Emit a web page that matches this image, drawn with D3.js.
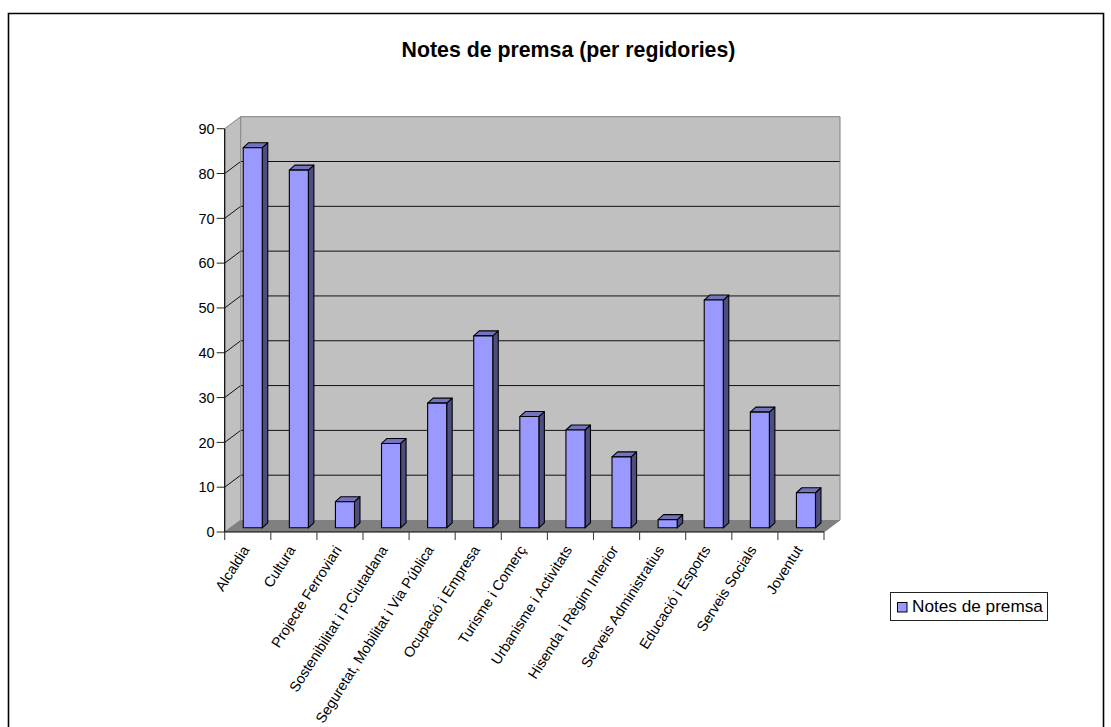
<!DOCTYPE html>
<html><head><meta charset="utf-8">
<script src="https://cdn.jsdelivr.net/npm/d3@7/dist/d3.min.js"></script>
<style>html,body{margin:0;padding:0;background:#fff;overflow:hidden}svg{display:block}text{font-family:"Liberation Sans",Arial,sans-serif;fill:#000}</style>
</head><body><svg id="c" width="1111" height="727"></svg>
<script>
const categories=["Alcaldia","Cultura","Projecte Ferroviari","Sostenibilitat i P.Ciutadana","Seguretat, Mobilitat i Via Pública","Ocupació i Empresa","Turisme i Comerç","Urbanisme i Activitats","Hisenda i Règim Interior","Serveis Administratius","Educació i Esports","Serveis Socials","Joventut"];
const values=[85,80,6,19,28,43,25,22,16,2,51,26,8];
const yTicks=[0,10,20,30,40,50,60,70,80,90];
const seriesName="Notes de premsa";
const titleText="Notes de premsa (per regidories)";

const svg=d3.select("#c");
const L=224.7,R=824,Y0=532,Y90=128.7,DX=16,DY=12;
const x=d3.scaleBand().domain(categories).range([L,R]).paddingInner(0.587).paddingOuter(0.2935);
const y=d3.scaleLinear().domain([0,90]).range([Y0,Y90]);

// frame
svg.append("path").attr("d","M8.5,727V13.5H1103.5V727").attr("fill","none").attr("stroke","#000").attr("stroke-width",1.6);

// title
svg.append("text").attr("x",568.5).attr("y",57).attr("text-anchor","middle").attr("font-weight","bold").attr("font-size",21.3).text(titleText);

// walls
const poly=(p,f)=>svg.append("polygon").attr("points",p.map(d=>d.join(",")).join(" ")).attr("fill",f).attr("stroke","none");
poly([[R+DX,y(90)-DY],[L+DX,y(90)-DY],[L+DX,y(0)-DY],[R+DX,y(0)-DY]],"#c0c0c0");
poly([[L,y(90)],[L+DX,y(90)-DY],[L+DX,y(0)-DY],[L,y(0)]],"#c0c0c0");
poly([[L,y(0)],[L+DX,y(0)-DY],[R+DX,y(0)-DY],[R,y(0)]],"#808080");

// gridlines
yTicks.forEach(t=>{
  if(t===90) return;
  svg.append("path").attr("d",`M${L},${y(t)}L${L+DX},${y(t)-DY}`+(t>0?`H${R+DX}`:"")).attr("fill","none").attr("stroke",t===0?"#808080":"#111").attr("stroke-width",1);
});
// wall edges
svg.append("path").attr("d",`M${L},${y(90)}L${L+DX},${y(90)-DY}H${R+DX}V${y(0)-DY}L${R},${y(0)}M${L+DX},${y(90)-DY}V${y(0)-DY}`).attr("fill","none").attr("stroke","#808080").attr("stroke-width",1);

// axes
svg.append("path").attr("d",`M${L},${y(90)}V${y(0)}H${R}`).attr("fill","none").attr("stroke","#000").attr("stroke-width",1.2);
const yg=svg.append("g");
yTicks.forEach(t=>{
  yg.append("line").attr("x1",L-8).attr("x2",L).attr("y1",y(t)).attr("y2",y(t)).attr("stroke","#222");
  yg.append("text").attr("x",L-10).attr("y",y(t)+5.3).attr("text-anchor","end").attr("font-size",14.5).text(t);
});
const step=x.step();
d3.range(categories.length+1).forEach(i=>{
  const tx=L+i*step;
  svg.append("line").attr("x1",tx).attr("x2",tx).attr("y1",y(0)).attr("y2",y(0)+8).attr("stroke","#444").attr("stroke-width",1.1);
});

// bars
const bh=4.2,bd=5.5,bdy=5;
const bw=x.bandwidth();
const gb=svg.append("g").attr("stroke","#000").attr("stroke-width",1.1).attr("stroke-linejoin","round");
categories.forEach((c,i)=>{
  const x0=x(c)+5, x1=x0+bw, top=y(values[i])-bh+0.8, bot=y(0)-bh;
  gb.append("polygon").attr("points",`${x1},${top} ${x1+bd},${top-bdy} ${x1+bd},${bot-bdy} ${x1},${bot}`).attr("fill","#4d4d80");
  gb.append("polygon").attr("points",`${x0},${top} ${x0+bd},${top-bdy} ${x1+bd},${top-bdy} ${x1},${top}`).attr("fill","#7373bf");
  gb.append("rect").attr("x",x0).attr("y",top).attr("width",bw).attr("height",bot-top).attr("fill","#9999ff");
});

// category labels
categories.forEach(c=>{
  const tx=x(c)+x.bandwidth()/2-2, ty=y(0)+15;
  svg.append("text").attr("transform",`translate(${tx},${ty}) rotate(-57.5)`).attr("text-anchor","end").attr("dy","0.35em").attr("font-size",14.4).text(c);
});

// legend
svg.append("rect").attr("x",890.5).attr("y",592.5).attr("width",157).attr("height",28).attr("fill","#fff").attr("stroke","#222").attr("stroke-width",1);
svg.append("rect").attr("x",897.5).attr("y",602.5).attr("width",9.5).attr("height",9.5).attr("fill","#9999ff").attr("stroke","#000").attr("stroke-width",1);
svg.append("text").attr("x",912).attr("y",612).attr("font-size",17.2).text(seriesName);
</script></body></html>
